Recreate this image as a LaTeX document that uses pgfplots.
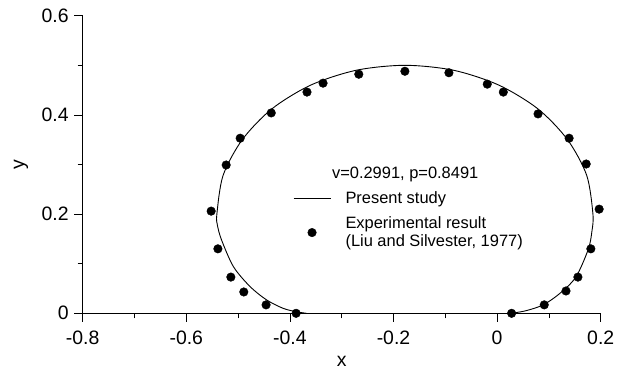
\documentclass[border=0pt]{standalone}
\usepackage{pgfplots}
\pgfplotsset{compat=1.18}
\usepackage{fontspec}
\setmainfont{Liberation Sans}
\newcommand\tfont{\fontsize{19.5}{22}\selectfont}
\newcommand\lfont{\fontsize{16.5}{18}\selectfont}
\begin{document}
\begin{tikzpicture}
\begin{axis}[
  at={(0,0)}, anchor=south west,
  scale only axis, width=518bp, height=297.6bp,
  xmin=-0.8, xmax=0.2, ymin=0, ymax=0.6,
  axis x line*=bottom, axis y line*=left,
  axis line style={line width=0.8bp, black},
  xtick={-0.8,-0.6,-0.4,-0.2,0,0.2},
  minor xtick={-0.7,-0.5,-0.3,-0.1,0.1},
  ytick={0,0.2,0.4,0.6},
  minor ytick={0.1,0.3,0.5},
  tick align=outside,
  major tick length=8.5bp, minor tick length=5bp,
  every tick/.style={black, line width=0.8bp},
  /pgf/number format/.cd, fixed, precision=1, assume math mode=true, /pgfplots/.cd,
  ticklabel style={font=\tfont},
  xticklabel style={yshift=-6bp},
  yticklabel style={xshift=-2bp},
  label style={font=\tfont},
  xlabel={x}, ylabel={y},
  xlabel style={at={(axis description cs:0.5,-0.163)}, anchor=center, inner sep=0pt},
  ylabel style={at={(axis description cs:-0.1191,0.5)}, anchor=center},
  legend style={draw=none, fill=none, font=\lfont,
    at={(axis cs:-0.400,0.254)}, anchor=north west,
    cells={align=left}, row sep=8bp},
  legend cell align=left,
]
\addplot[black, line width=0.9bp, smooth,
  legend image code/.code={\draw[black, line width=0.9bp] (0bp,0bp) -- (37bp,0bp); \path[draw=none] (37bp,0bp) -- (50bp,0bp);}]
  coordinates {
(-0.368,0) (-0.387,0.003) (-0.413,0.010) (-0.445,0.027) (-0.477,0.054)
(-0.509,0.094) (-0.532,0.148) (-0.540,0.178) (-0.541,0.2) (-0.529,0.278)
(-0.492,0.35) (-0.435,0.412) (-0.36,0.46) (-0.272,0.49) (-0.178,0.5)
(-0.084,0.49) (0.0035,0.46) (0.079,0.412) (0.136,0.35) (0.173,0.278)
(0.185,0.2) (0.183,0.165) (0.176,0.129) (0.152,0.073) (0.121,0.040)
(0.089,0.017) (0.055,0.005) (0.027,0)
};
\addlegendentry{Present study}
\addplot[only marks, mark=*, mark size=4.3bp, black,
  legend image code/.code={\path[draw=none] (0bp,0bp) -- (50bp,0bp); \fill[black] (18.5bp,0bp) circle (4.3bp);}]
  coordinates {
(-0.388,0.0) (-0.446,0.017) (-0.489,0.043) (-0.514,0.073) (-0.539,0.130)
(-0.552,0.206) (-0.523,0.299) (-0.496,0.353) (-0.436,0.404) (-0.367,0.446)
(-0.336,0.464) (-0.267,0.482) (-0.178,0.488) (-0.093,0.485) (-0.019,0.462)
(0.012,0.446) (0.079,0.402) (0.139,0.353) (0.172,0.301) (0.197,0.210)
(0.181,0.130) (0.156,0.073) (0.133,0.045) (0.091,0.017) (0.028,0.0)
};
\addlegendentry{Experimental result\\(Liu and Silvester, 1977)}
\node[anchor=west, font=\lfont, inner sep=0pt] at (axis cs:-0.319,0.279) {v=0.2991, p=0.8491};
\end{axis}
\pgfresetboundingbox
\path[use as bounding box] (-82.7bp,-58.7bp) rectangle (541.3bp,313.3bp);
\end{tikzpicture}
\end{document}
